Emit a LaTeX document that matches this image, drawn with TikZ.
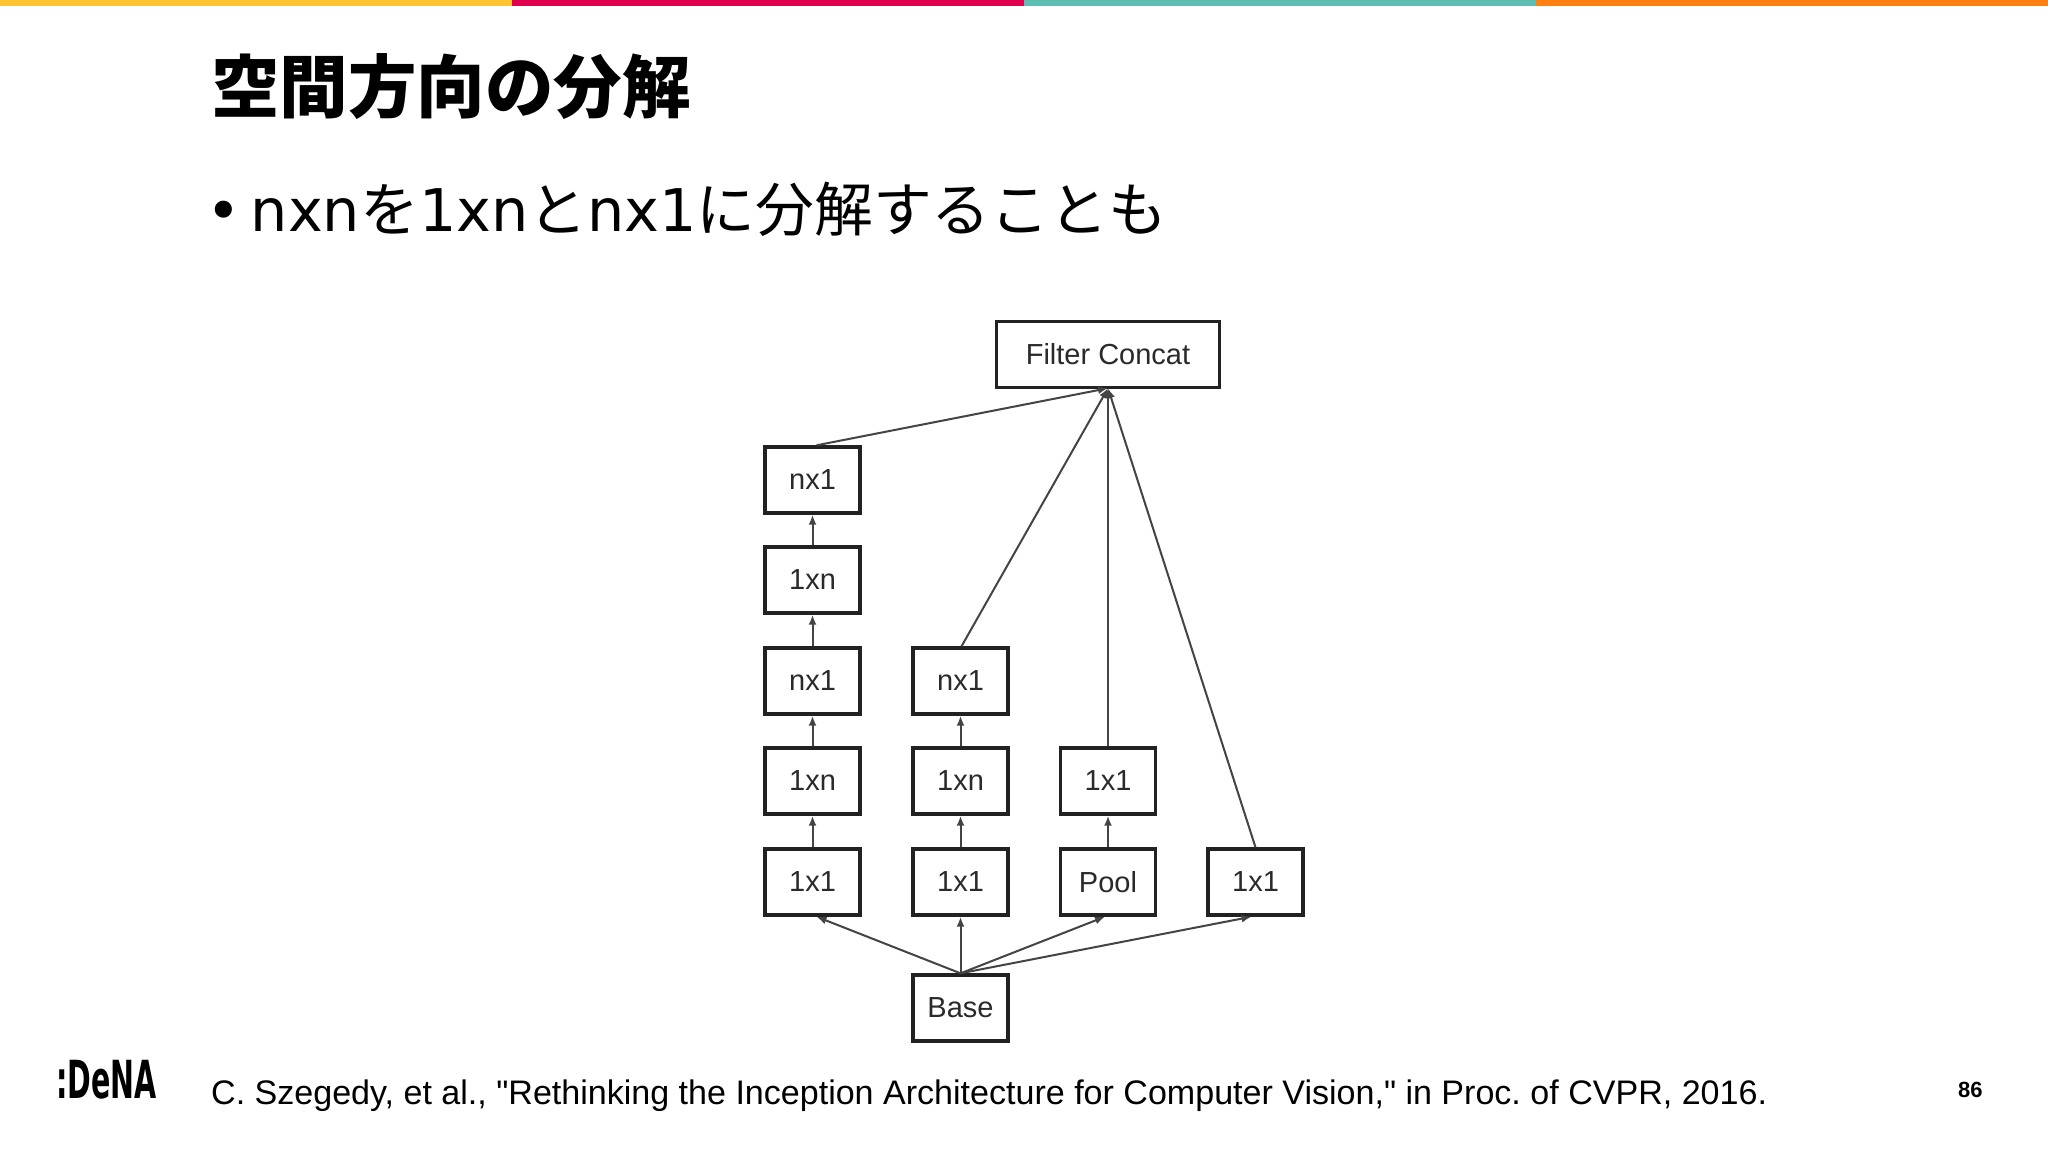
\documentclass[tikz,border=0pt]{standalone}
\usepackage{fontspec}
\setmainfont{Liberation Sans}[Ligatures=TeXOff]
\newfontfamily\cjk{Noto Sans CJK JP}
\newfontfamily\latinb{DejaVu Sans}
\usetikzlibrary{arrows.meta}
\definecolor{barA}{HTML}{FFC233}
\definecolor{barB}{HTML}{E0004D}
\definecolor{barC}{HTML}{5DBDB5}
\definecolor{barD}{HTML}{FF7F0F}
\definecolor{boxline}{HTML}{222222}
\definecolor{linkline}{HTML}{444444}
\definecolor{boxtext}{HTML}{2A2A2A}
\tikzset{
  block/.style={draw=boxline,line width=3.4pt,fill=white,minimum width=95pt,minimum height=66pt,inner sep=0pt,
    font=\fontsize{29}{32}\selectfont,text=boxtext},
  wideblock/.style={block,minimum width=223pt},
  link/.style={draw=linkline,line width=2pt,-{Latex[length=10pt,width=8pt]}},
  plain/.style={inner sep=0pt,anchor=base west,text=black},
}
\begin{document}
\frenchspacing
\begin{tikzpicture}[x=1pt,y=-1pt]
\useasboundingbox (0,0) rectangle (2048,1152);
\fill[white] (0,0) rectangle (2048,1152);
\fill[barA] (0,0) rectangle (512,6);
\fill[barB] (512,0) rectangle (1024,6);
\fill[barC] (1024,0) rectangle (1536,6);
\fill[barD] (1536,0) rectangle (2048,6);

\node[plain] (title) at (211,112) {\cjk\bfseries\fontsize{68.5}{80}\selectfont 空間方向の分解};
\node[plain] (body) at (206,231) {\latinb\fontsize{58.8}{70}\selectfont •\hspace{10pt}nxn\cjk を\latinb 1xn\cjk と\latinb nx1\cjk に分解することも};
\node[plain] (ref) at (211,1104) {\fontsize{34.05}{40}\selectfont C. Szegedy, et al., "Rethinking the Inception Architecture for Computer Vision," in Proc. of CVPR, 2016.};
\node[plain] (page) at (1958,1097) {\bfseries\fontsize{22}{24}\selectfont 86};
\node[plain] (logo) at (56,1098) {\latinb\bfseries\fontsize{42}{48}\selectfont\scalebox{0.68}[1.25]{:DeNA}};

\node[wideblock] (fc) at (1108,354.5) {Filter Concat};
\node[block] (a5) at (812.5,480) {nx1};
\node[block] (a4) at (812.5,580) {1xn};
\node[block] (a3) at (812.5,681) {nx1};
\node[block] (a2) at (812.5,781) {1xn};
\node[block] (a1) at (812.5,882) {1x1};
\node[block] (b3) at (960.5,681) {nx1};
\node[block] (b2) at (960.5,781) {1xn};
\node[block] (b1) at (960.5,882) {1x1};
\node[block] (c2) at (1108,781) {1x1};
\node[block] (c1) at (1108,882) {Pool};
\node[block] (d1) at (1255.5,882) {1x1};
\node[block] (base) at (960.5,1008) {Base};

\draw[link] (a1) -- (a2);
\draw[link] (a2) -- (a3);
\draw[link] (a3) -- (a4);
\draw[link] (a4) -- (a5);
\draw[link] (b1) -- (b2);
\draw[link] (b2) -- (b3);
\draw[link] (c1) -- (c2);
\draw[link] ([xshift=4pt]a5.north) -- ([yshift=1pt]fc.south);
\draw[link] ([xshift=1pt]b3.north) -- ([yshift=1pt]fc.south);
\draw[link] (c2.north) -- ([yshift=1pt]fc.south);
\draw[link] (d1.north) -- ([yshift=1pt]fc.south);
\draw[link] (base.north) -- ([xshift=4pt]a1.south);
\draw[link] (base.north) -- (b1.south);
\draw[link] (base.north) -- ([xshift=-3pt]c1.south);
\draw[link] (base.north) -- ([xshift=-4pt]d1.south);
\end{tikzpicture}
\end{document}
